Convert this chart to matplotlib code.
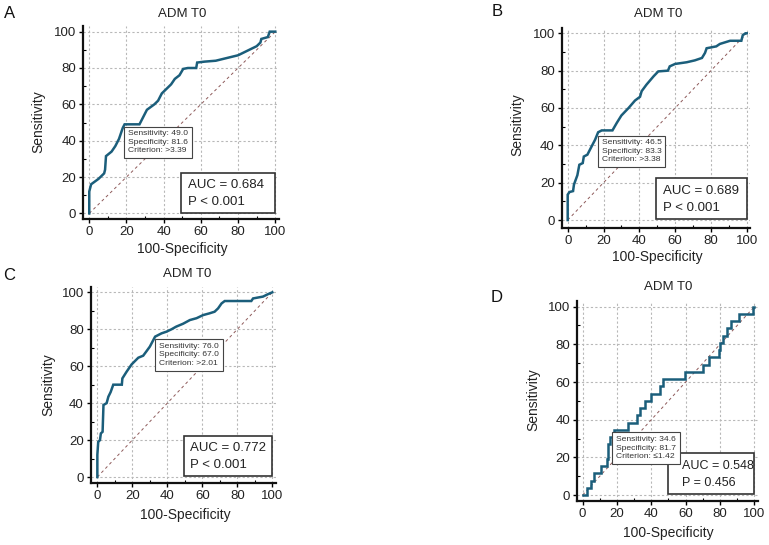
import matplotlib
matplotlib.use("Agg")
import matplotlib.pyplot as plt
from matplotlib.patches import Rectangle

plt.rcParams['font.family'] = ['Liberation Sans', 'DejaVu Sans']

W, H = 769, 545

# ---------------- data ----------------
panel_letters = ["A", "B", "C", "D"]
titles = ["ADM T0", "ADM T0", "ADM T0", "ADM T0"]

# ROC curve vertices (100-Specificity, Sensitivity)
a_fpr = [0, 0, 1, 5, 8, 8.5, 9, 12, 14, 16, 18, 19, 27, 28, 31, 35, 37, 39, 41, 44, 46, 48.5,
         50.5, 53, 57.5, 58, 62, 68, 76, 80, 86, 90, 92, 92.5, 96, 97, 100]
a_tpr = [0, 12, 16, 19, 22, 24, 31.5, 34, 37, 41, 47, 49, 49, 51, 57, 60, 62, 66, 68, 71, 74, 76,
         79.5, 80, 80, 83, 83.5, 84, 86, 87, 90, 92, 94, 96, 97, 100, 100]

b_fpr = [0, 0, 1, 3, 3.5, 5.4, 6.5, 8.4, 9, 11, 13.4, 15.3, 17, 19, 25, 27.4, 30, 34, 37.6, 40.4,
         41.3, 44, 48, 50.6, 56, 57, 60, 66.5, 71, 75, 76.7, 77.6, 83, 85, 90.7, 97, 97.8, 99.3, 100]
b_tpr = [0, 13.6, 15, 15.5, 19, 24, 29.6, 30.5, 34, 35, 39.5, 43, 47, 48, 48, 52, 56, 60, 64, 66,
         69, 72.5, 77, 79.6, 80, 82.3, 83.6, 84.5, 85.5, 86.8, 89.5, 92, 93, 94.3, 96, 96, 99, 100, 100]

c_fpr = [0, 0, 0.5, 1.5, 2, 3, 3.5, 5.3, 6.3, 7.6, 9.1, 14, 14.3, 16.7, 19.6, 21.5, 23.4, 26.2, 28,
         30, 33, 36.7, 39.5, 42.4, 45, 49, 52.9, 56.7, 60.5, 64, 67, 69, 71, 72.8, 88, 89, 94.7,
         97.5, 100]
c_tpr = [0, 12, 19, 20, 23.6, 24.5, 39, 40, 43.5, 46, 50, 50, 53.4, 57, 61, 62.8, 64.6, 65.7, 68,
         70.6, 76, 77.8, 78.7, 80, 81.4, 83, 85, 86, 87.7, 88.6, 89.5, 91.3, 94, 95.3, 95.3, 96.7, 97.7,
         99, 100]

# panel D drawn as steps (jump points)
d_fpr = [0, 2.5, 4.9, 6.8, 10.7, 14.2, 14.5, 15, 16, 18.3, 26.2, 31.7, 33.5, 36.5, 40, 45, 47, 59.8,
         70.3, 73.4, 79.6, 80.2, 81.7, 84, 86.5, 90.8, 99, 100]
d_tpr = [0, 3.85, 7.7, 11.5, 15.4, 19.2, 23.1, 26.9, 30.8, 34.6, 38.5, 42.3, 46.2, 50, 53.8, 57.7, 61.5,
         65.4, 69.2, 73.1, 76.9, 80.8, 84.6, 88.5, 92.3, 96.2, 100, 100]

cut_sens = [49.0, 46.5, 76.0, 34.6]
cut_spec = [81.6, 83.3, 67.0, 81.7]
cut_crit = [">3.39", ">3.38", ">2.01", "\u22641.42"]
auc_vals = ["0.684", "0.689", "0.772", "0.548"]
p_vals = ["P < 0.001", "P < 0.001", "P < 0.001", "P = 0.456"]

curves = [(a_fpr, a_tpr), (b_fpr, b_tpr), (c_fpr, c_tpr), (d_fpr, d_tpr)]
drawstyles = ['default', 'default', 'default', 'steps-post']

# ---------------- layout (pixels) ----------------
boxes = [(83.3, 279.0, 219.0, 26.2, -3.2, -3.1),
         (561.7, 750.3, 227.7, 27.7, -3.35, -4.1),
         (90.7, 275.8, 483.3, 286.8, -3.8, -3.4),
         (577.3, 757.8, 500.7, 301.0, -3.1, -3.0)]
title_pos = [(182, 14), (658, 14), (187, 274), (668, 287)]
letter_pos = [(10, 13), (497, 12), (9, 276), (497, 297)]
ylabel_pos = [(38, 122), (517, 125), (48, 385), (533, 400)]
xlabel_pos = [(182, 249), (657, 257), (185, 515), (668, 533)]
auc_text_x = [53, 53, 53, 58]
auc_fs = [9.5, 9.5, 9.5, 9.0]
note_dx = [2.3, 2.3, 2.3, 1.2]

curve_color = '#1b5e7b'
diag_color = '#8e5a5a'
grid_color = '#b8b8b8'
text_color = '#222222'

fig = plt.figure(figsize=(W / 100, H / 100), dpi=100)

for i in range(4):
    l, r, b, t, xmin, ymin = boxes[i]
    ax = fig.add_axes([l / W, (H - b) / H, (r - l) / W, (b - t) / H])
    ax.set_xlim(xmin, 102)
    ax.set_ylim(ymin, 103)
    for s in ['top', 'right']:
        ax.spines[s].set_visible(False)
    for s in ['left', 'bottom']:
        ax.spines[s].set_linewidth(1.6)
        ax.spines[s].set_color('#111111')
    ticks = [0, 20, 40, 60, 80, 100]
    ax.set_xticks(ticks)
    ax.set_yticks(ticks)
    ax.set_xticks(range(10, 100, 20), minor=True)
    ax.set_yticks(range(10, 100, 20), minor=True)
    ax.tick_params(which='major', direction='out', length=3, width=1, labelsize=9.5,
                   labelcolor=text_color, pad=2)
    ax.tick_params(which='minor', direction='in', length=2.5, width=0.8)
    ax.grid(True, which='major', linestyle=(0, (2, 2)), color=grid_color, linewidth=0.8)
    ax.set_axisbelow(True)

    ax.plot([0, 100], [0, 100], linestyle=(0, (3, 3)), color=diag_color, linewidth=0.7, zorder=2)

    fpr, tpr = curves[i]
    ax.plot(fpr, tpr, drawstyle=drawstyles[i], color=curve_color, linewidth=1.8, zorder=3,
            solid_joinstyle='miter')

    ax.add_patch(Rectangle((49.5, 0.3), 50.5, 22.0, facecolor='white', edgecolor='#333333',
                           linewidth=1.2, zorder=6))
    ax.text(auc_text_x[i], 15.5, f"AUC = {auc_vals[i]}", fontsize=auc_fs[i], color=text_color,
            va='center', ha='left', zorder=7)
    ax.text(auc_text_x[i], 6.5, p_vals[i], fontsize=auc_fs[i], color=text_color, va='center',
            ha='left', zorder=7)

    cx = 100 - cut_spec[i]
    cy = cut_sens[i]
    txt = (f"Sensitivity: {cut_sens[i]:.1f}\nSpecificity: {cut_spec[i]:.1f}\n"
           f"Criterion: {cut_crit[i]}")
    ax.text(cx + note_dx[i], cy - 3.3, txt, ha='left', va='top', fontsize=6.1,
            family=['Liberation Sans Narrow', 'Liberation Sans', 'DejaVu Sans'],
            color='#333333', linespacing=1.3, zorder=6.5,
            bbox=dict(boxstyle='square,pad=0.45', facecolor='white', edgecolor='#444444',
                      linewidth=0.8))

    fig.text(title_pos[i][0] / W, 1 - title_pos[i][1] / H, titles[i], ha='center', va='center',
             fontsize=9.5, color=text_color)
    fig.text(letter_pos[i][0] / W, 1 - letter_pos[i][1] / H, panel_letters[i], ha='center',
             va='center', fontsize=12, color='#111111')
    fig.text(ylabel_pos[i][0] / W, 1 - ylabel_pos[i][1] / H, "Sensitivity", ha='center',
             va='center', rotation=90, fontsize=10, color=text_color)
    fig.text(xlabel_pos[i][0] / W, 1 - xlabel_pos[i][1] / H, "100-Specificity", ha='center',
             va='center', fontsize=10, color=text_color)

fig.savefig("out.png", dpi=100, facecolor='white')
